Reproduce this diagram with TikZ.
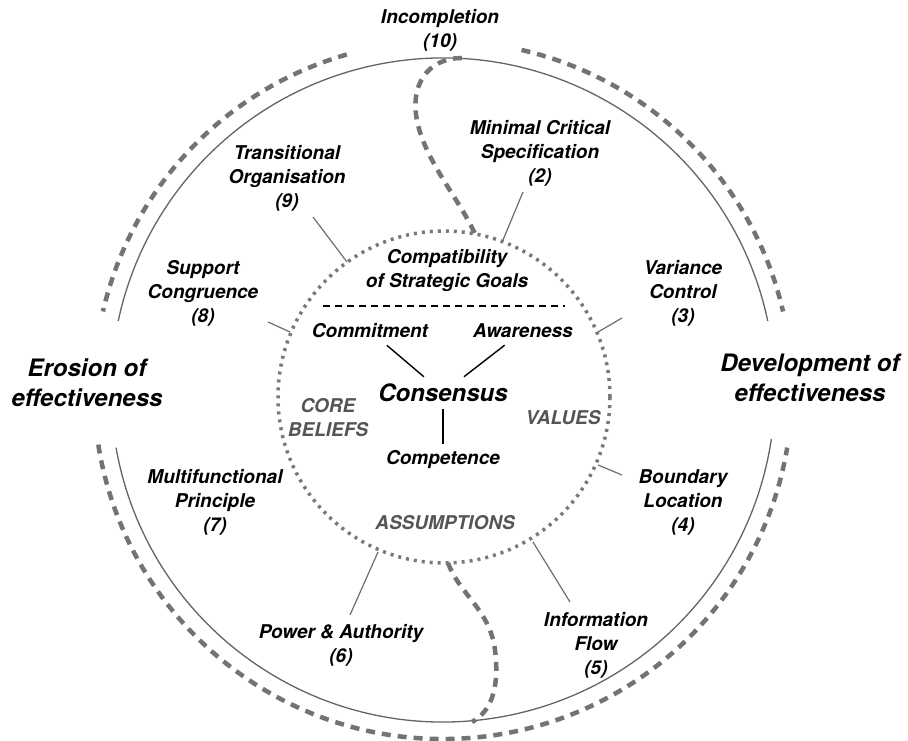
\documentclass[tikz,border=0pt]{standalone}
\usepackage{fontspec}
\setmainfont{TeX Gyre Heros}
\definecolor{solidgray}{RGB}{100,100,100}
\definecolor{dashgray}{RGB}{115,115,115}
\definecolor{dotgray}{RGB}{120,120,120}
\definecolor{spokegray}{RGB}{110,110,110}
\definecolor{txtgray}{RGB}{85,85,85}
\begin{document}
\begin{tikzpicture}[x=1pt,y=1pt,
  lbl/.style={font=\fontsize{19}{24}\selectfont\bfseries\itshape, align=center, inner sep=0pt},
  big/.style={font=\fontsize{24}{30}\selectfont\bfseries\itshape, align=center, inner sep=0pt},
  greylbl/.style={lbl, text=txtgray},
  hub/.style={lbl, inner sep=7pt},
  solidring/.style={draw=solidgray, line width=1.3pt},
  dashring/.style={draw=dashgray, line width=4.5pt, dash pattern=on 9pt off 7pt},
  dotring/.style={draw=dotgray, line width=3.5pt, dash pattern=on 3pt off 5pt},
  spoke/.style={draw=spokegray, line width=1.2pt},
  link/.style={draw=black, line width=1.4pt}]
\useasboundingbox (0,0) rectangle (908,741);

% centres
\coordinate (co) at (443,351);
\coordinate (ci) at (444,344);

% outer solid ring (two arcs)
\draw[solidring] (co) ++(12:332pt) arc[start angle=12, end angle=168, radius=332pt];
\draw[solidring] (co) ++(190:332pt) arc[start angle=190, end angle=351.5, radius=332pt];

% outer dashed ring (three arcs)
\draw[dashring] (co) ++(106:349pt) arc[start angle=106, end angle=167, radius=349pt];
\draw[dashring] (co) ++(77:349pt) arc[start angle=77, end angle=13, radius=349pt];
\draw[dashring] (co) ++(189:349pt) arc[start angle=189, end angle=350.5, radius=349pt];

% inner dotted circle
\draw[dotring] (ci) circle[radius=166pt];

% S-curves
\draw[dashring] (462,683) .. controls (428,683) and (408,656) .. (418,616)
                .. controls (428,576) and (460,541) .. (476,505);
\draw[dashring] (448,178) .. controls (460,146) and (490,131) .. (495,91)
                .. controls (500,51) and (490,29) .. (472,19);

% dashed separator
\coordinate (sepL) at (323,435);
\coordinate (sepR) at (565,435);
\draw[black, line width=1.5pt, dash pattern=on 7pt off 5pt] (sepL) -- (sepR);

% outer labels
\node[lbl] (l10) at (440,711) {Incompletion\\(10)};
\node[lbl] (l2) at (540,588) {Minimal Critical\\Specification\\(2)};
\node[lbl] (l9) at (287,563) {Transitional\\Organisation\\(9)};
\node[lbl] (l8) at (203,448) {Support\\Congruence\\(8)};
\node[lbl] (l3) at (683,448) {Variance\\Control\\(3)};
\node[lbl] (l7) at (215,239) {Multifunctional\\Principle\\(7)};
\node[lbl] (l4) at (683,239) {Boundary\\Location\\(4)};
\node[lbl] (l6) at (341,96) {Power \& Authority\\(6)};
\node[lbl] (l5) at (596,96) {Information\\Flow\\(5)};
\node[big] (ero) at (87,358) {Erosion of\\effectiveness};
\node[big] (dev) at (810,363) {Development of\\effectiveness};

% inner labels
\node[lbl] (compat) at (447,470) {Compatibility\\of Strategic Goals};
\node[hub] (commit) at (370,410) {Commitment};
\node[hub] (aware) at (523,410) {Awareness};
\node[big, inner sep=7pt] (cons) at (443,348) {Consensus};
\node[hub] (compet) at (443,281) {Competence};
\node[greylbl] (core) at (328,323) {CORE\\BELIEFS};
\node[greylbl] (values) at (563,323) {VALUES};
\node[greylbl] (assum) at (445,218) {ASSUMPTIONS};

\draw[link] (commit) -- (cons);
\draw[link] (aware) -- (cons);
\draw[link] (compet) -- (cons);

% spokes
\coordinate (s9o) at (313,524); \coordinate (s9i) at (347,479);
\coordinate (s2o) at (523,549); \coordinate (s2i) at (503,501);
\coordinate (s8o) at (268,419); \coordinate (s8i) at (290,409);
\coordinate (s3o) at (622,423); \coordinate (s3i) at (598,409);
\coordinate (s4o) at (622,266); \coordinate (s4i) at (598,276);
\coordinate (s6o) at (350,126); \coordinate (s6i) at (378,189);
\coordinate (s5o) at (570,139); \coordinate (s5i) at (533,199);
\foreach \s in {9,2,8,3,4,6,5} {\draw[spoke] (s\s o) -- (s\s i);}
\end{tikzpicture}
\end{document}
